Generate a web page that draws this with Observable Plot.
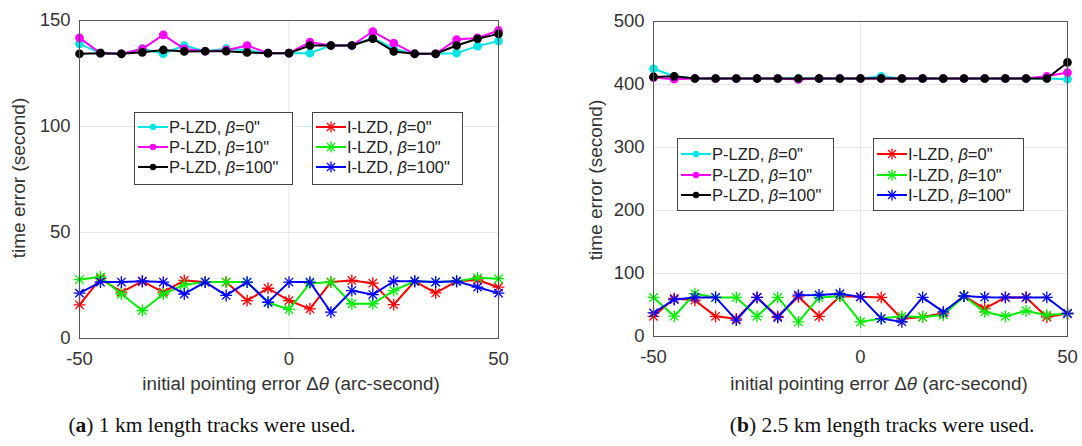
<!DOCTYPE html>
<html><head><meta charset="utf-8">
<script src="https://cdn.jsdelivr.net/npm/d3@7"></script>
<script src="https://cdn.jsdelivr.net/npm/@observablehq/plot@0.6"></script>
<style>
body{margin:0;background:#fff;}
#wrap{position:relative;width:1082px;height:446px;overflow:hidden;font-family:"Liberation Sans",Arial,sans-serif;color:#333}
.panel{position:absolute;top:0}
.legend{position:absolute;border:1px solid #444;background:#fff;box-sizing:border-box}
.row{position:absolute;left:3px;height:20px;display:flex;align-items:center;font-size:16.5px;white-space:nowrap;color:#222}
.row svg{margin-right:1px}
.xlabel{position:absolute;font-size:18.8px;white-space:nowrap;transform:translate(-50%,-50%);color:#333}
.ylabel{position:absolute;font-size:19px;white-space:nowrap;transform:translate(-50%,-50%) rotate(-90deg);color:#333}
.caption{position:absolute;font-family:"Liberation Serif","Times New Roman",serif;font-size:21.5px;white-space:nowrap;transform:translate(-50%,-50%);color:#111}
</style></head><body><div id="wrap"></div>
<script>
// ---------- data ----------
const xValues = [-50,-45,-40,-35,-30,-25,-20,-15,-10,-5,0,5,10,15,20,25,30,35,40,45,50];

// Panel (a): 1 km tracks
const a_P0   = [139,134.6,134.3,136.7,134.3,138.2,135.5,136.7,136,134.6,134.6,134.6,138.2,138.2,141.8,136.7,134.3,134.3,134.6,137.9,140.3];
const a_P10  = [141.8,134.6,134.3,136.6,143.2,136.6,135.5,136,138.2,134.6,134.6,139.8,138.2,138.2,144.8,139.3,134.3,134.3,141,141.8,145.3];
const a_P100 = [134.3,134.6,134.3,135,136.1,135.4,135.5,135.5,134.9,134.6,134.6,138.2,138.2,138.2,141.4,135.4,134.3,134.3,138.2,141.4,143.7];
const a_I0   = [15.9,28.2,21.9,26.9,21.9,27.4,26.6,26.6,17.9,23.7,17.9,14,26.6,27.4,26.1,16,27,21.5,27,27.6,24.2];
const a_I10  = [27.8,29,21,13.2,21,25.3,26.6,26.6,26.6,17,13.7,26,26.6,16.4,16.4,22.6,27,26.6,27,28.6,28.2];
const a_I100 = [21.4,26.6,26.6,27,26.6,21,26.6,20.3,26.6,17.1,26.6,26.6,12.4,22.6,20.7,27,27,26.6,27,24.2,21.4];

// Panel (b): 2.5 km tracks
const b_P0   = [425,413,409.5,409.5,409.5,409.5,409.5,409.5,409.5,409.5,409.5,413,409.5,409.5,409.5,409.5,409.5,409.5,409.5,409.5,408.5];
const b_P10  = [411,408.5,409.5,409.5,409.5,409.5,409.5,408,409.5,409.5,409.5,409.5,409.5,409.5,409.5,409.5,409.5,409.5,409.5,413,419];
const b_P100 = [412,413,409.5,409.5,409.5,409.5,409.5,409.5,409.5,409.5,409.5,409.5,409.5,409.5,409.5,409.5,409.5,409.5,409.5,409.5,435];
const b_I0   = [32,60.3,57.6,32,28,62,32,63,32,64,62.9,62,28,31,37,64,44.4,62,62,31,36.5];
const b_I10  = [61.9,32.2,68,62,62,32,62,23.2,62,64,23.2,28.5,32,31,34,64,39,32,40.6,34,36.5];
const b_I100 = [37.5,58.7,62,62,25.9,62,30.2,65.6,66,68,62.9,28.5,23.2,62,39,64.3,62.4,62,62,62,36.5];

const seriesNames  = ['P-LZD, β=0"','P-LZD, β=10"','P-LZD, β=100"','I-LZD, β=0"','I-LZD, β=10"','I-LZD, β=100"'];
const seriesColors = ["#00e5e5","#ff00ff","#000000","#ff0000","#00ee00","#0000ff"];
const seriesMarker = ["dot","dot","dot","star","star","star"];

const xTicks  = [-50,0,50];
const aYTicks = [0,50,100,150];
const bYTicks = [0,100,200,300,400,500];

const xLabel = 'initial pointing error Δ<i>θ</i> (arc-second)';
const yLabel = 'time error (second)';
const captionA = '(<b>a</b>) 1 km length tracks were used.';
const captionB = '(<b>b</b>) 2.5 km length tracks were used.';

// ---------- drawing ----------
const wrap = document.getElementById("wrap");

function rowsOf(vals){ return xValues.map((x,i)=>({x, y: vals[i]})); }

function makePanel(cfg){
  const marks = [
    Plot.gridX(xTicks, {stroke:"#e6e6e6", strokeOpacity:1}),
    Plot.gridY(cfg.yTicks, {stroke:"#e6e6e6", strokeOpacity:1}),
    Plot.axisX(xTicks, {tickSize:0, tickPadding:13, tickFormat:d=>String(d), label:null}),
    Plot.axisY(cfg.yTicks, {tickSize:0, tickPadding:9, tickFormat:d=>String(d), label:null})
  ];
  cfg.series.forEach((vals, k) => {
    const rows = rowsOf(vals);
    const c = seriesColors[k];
    marks.push(Plot.line(rows, {x:"x", y:"y", stroke:c, strokeWidth:2}));
    if (seriesMarker[k] === "dot") {
      marks.push(Plot.dot(rows, {x:"x", y:"y", r:3.6, fill:c, stroke:c}));
    } else {
      marks.push(Plot.dot(rows, {x:"x", y:"y", symbol:"plus", r:3.9, stroke:c, strokeWidth:1.3}));
      marks.push(Plot.dot(rows, {x:"x", y:"y", symbol:"times", r:3.9, stroke:c, strokeWidth:1.3}));
    }
  });
  marks.push(Plot.frame({stroke:"#555"}));
  const svg = Plot.plot({
    width: 541, height: 400,
    marginLeft: cfg.ml, marginRight: cfg.mr, marginTop: cfg.mt, marginBottom: cfg.mb,
    x: {domain:[-50,50]},
    y: {domain: cfg.yDomain},
    style: {fontFamily:'"Liberation Sans", Arial, sans-serif', fontSize:"18.5px", color:"#333", background:"transparent"},
    marks
  });
  const holder = document.createElement("div");
  holder.className = "panel";
  holder.style.left = cfg.left + "px";
  holder.appendChild(svg);
  wrap.appendChild(holder);
}

function legendMarker(k){
  const c = seriesColors[k];
  let m;
  if (seriesMarker[k] === "dot") m = `<circle cx="15" cy="6" r="3.2" fill="${c}"/>`;
  else m = `<g stroke="${c}" stroke-width="1.3"><line x1="9.5" y1="6" x2="20.5" y2="6"/><line x1="15" y1="0.5" x2="15" y2="11.5"/><line x1="11" y1="2" x2="19" y2="10"/><line x1="11" y1="10" x2="19" y2="2"/></g>`;
  return `<svg width="30" height="12"><line x1="0" y1="6" x2="30" y2="6" stroke="${c}" stroke-width="2"/>${m}</svg>`;
}

function makeLegend(left, top, width, height, idx, rowTops){
  const d = document.createElement("div");
  d.className = "legend";
  Object.assign(d.style, {left:left+"px", top:top+"px", width:width+"px", height:height+"px"});
  idx.forEach((k, j) => {
    const r = document.createElement("div");
    r.className = "row";
    r.style.top = rowTops[j] + "px";
    const name = seriesNames[k].replace("β", "<i>β</i>");
    r.innerHTML = legendMarker(k) + `<span>${name}</span>`;
    d.appendChild(r);
  });
  wrap.appendChild(d);
}

function addText(cls, x, y, html){
  const d = document.createElement("div");
  d.className = cls;
  d.style.left = x + "px"; d.style.top = y + "px";
  d.innerHTML = html;
  wrap.appendChild(d);
}

makePanel({left:0, ml:79, mr:43, mt:20, mb:62, yDomain:[0,150], yTicks:aYTicks,
  series:[a_P0,a_P10,a_P100,a_I0,a_I10,a_I100]});
makePanel({left:541, ml:112, mr:15, mt:21, mb:64, yDomain:[0,500], yTicks:bYTicks,
  series:[b_P0,b_P10,b_P100,b_I0,b_I10,b_I100]});

makeLegend(134, 112, 159, 73, [0,1,2], [4,24,44]);
makeLegend(312, 112, 151, 73, [3,4,5], [4,24,44]);
makeLegend(677, 138, 157, 73, [0,1,2], [5,26,46]);
makeLegend(873, 138, 151, 73, [3,4,5], [5,26,46]);

addText("xlabel", 291, 384, xLabel);
addText("xlabel", 879, 384, xLabel);
addText("ylabel", 19, 178, yLabel);
addText("ylabel", 596, 180, yLabel);
addText("caption", 212, 425, captionA);
addText("caption", 882, 425, captionB);
</script></body></html>
